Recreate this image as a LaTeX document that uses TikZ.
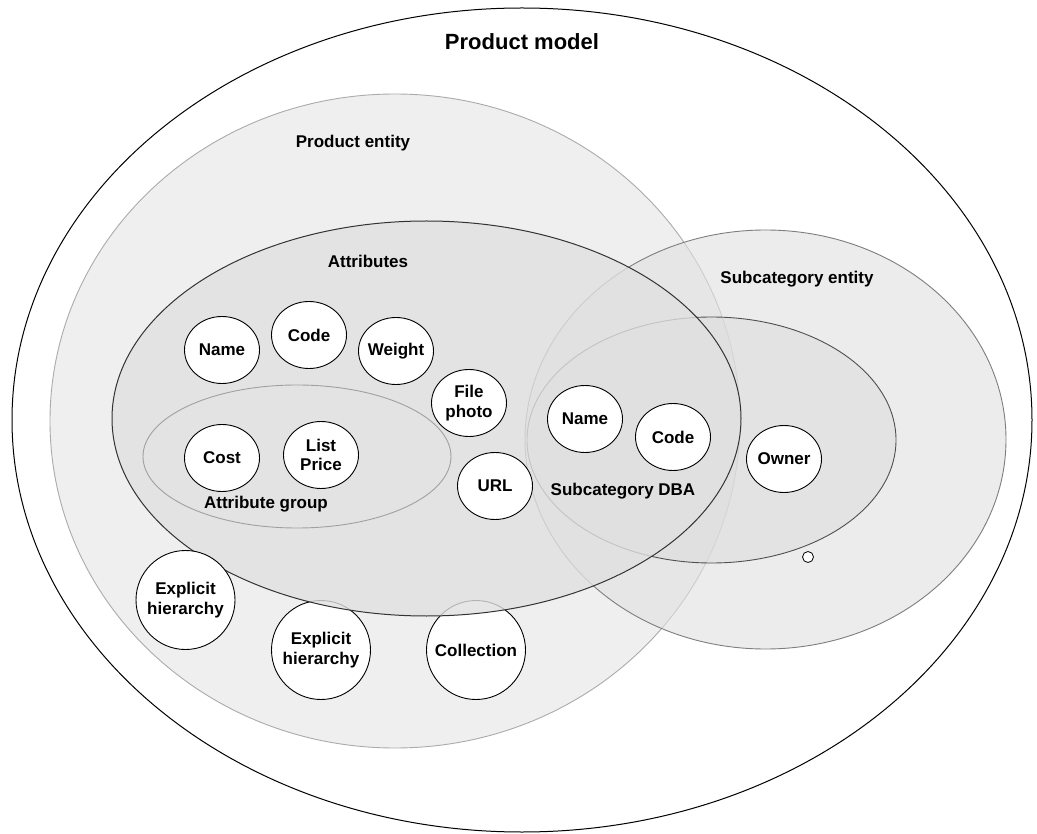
\documentclass[tikz,border=0pt]{standalone}
\usepackage{fontspec}
\setmainfont{Liberation Sans}
\usetikzlibrary{shapes.geometric}
\newcommand\lblfont{\bfseries\fontsize{17}{19.5}\selectfont}
\newcommand\titlefont{\bfseries\fontsize{22}{25}\selectfont}
\definecolor{pefill}{HTML}{EFEFEF}
\definecolor{pedraw}{HTML}{ABABAB}
\definecolor{scfill}{HTML}{E1E1E1}
\definecolor{scdraw}{HTML}{7E7E7E}
\definecolor{dbafill}{HTML}{DCDCDC}
\definecolor{dbadraw}{HTML}{505050}
\definecolor{atfill}{HTML}{E0E0E0}
\definecolor{atdraw}{HTML}{333333}
\definecolor{grpdraw}{HTML}{A0A0A0}
\begin{document}
\begin{tikzpicture}[x=1pt,y=-1pt,
  region/.style={ellipse, inner sep=0pt, outer sep=0pt},
  lbl/.style={font=\lblfont, inner sep=0pt, align=center},
  item/.style={ellipse, draw=black, line width=0.9pt, fill=white, inner sep=0pt,
    minimum width=75pt, minimum height=67pt,
    label={[lbl]center:#1}},
  bigitem/.style={item={#1}, minimum width=99pt, minimum height=99pt}
]
\useasboundingbox (0,0) rectangle (1037,834);
\fill[white] (0,0) rectangle (1037,834);

% containers
\node[region, draw=black, line width=1pt, fill=white,
  minimum width=1020pt, minimum height=824pt] (model) at (522,420) {};
\node[region, draw=pedraw, line width=0.9pt, fill=pefill,
  minimum width=690pt, minimum height=654pt] (pent) at (395,421) {};
\node[region, draw=scdraw, line width=0.9pt, fill=scfill, fill opacity=0.62,
  minimum width=481pt, minimum height=419pt] (sent) at (765.5,439.5) {};
\node[region, draw=dbadraw, line width=0.9pt, fill=dbafill, fill opacity=0.5,
  minimum width=369pt, minimum height=246pt] (dba) at (711.5,440) {};

% items partly behind the attributes ellipse
\node[bigitem={Collection}] (coll) at (476,650) {};
\node[bigitem={Explicit\\hierarchy}] (eh2) at (321,650) {};

\node[region, draw=atdraw, line width=1pt, fill=atfill, fill opacity=0.8,
  minimum width=629pt, minimum height=395pt] (attrs) at (426.5,418.5) {};
\node[region, draw=grpdraw, line width=0.9pt,
  minimum width=308pt, minimum height=143pt] (grp) at (297,456.5) {};

% items
\node[bigitem={Explicit\\hierarchy}] (eh1) at (185.5,600) {};
\node[item={Name}] (name) at (222,350) {};
\node[item={Code}] (code) at (309,335) {};
\node[item={Weight}] (weight) at (396,351) {};
\node[item={File\\photo}] (photo) at (469,403) {};
\node[item={Cost}] (cost) at (222,458) {};
\node[item={List\\Price}] (price) at (321,455) {};
\node[item={URL}] (url) at (495,486) {};
\node[item={Name}] (sname) at (585,419) {};
\node[item={Code}] (scode) at (673,437) {};
\node[item={Owner}] (owner) at (784,459) {};
\node[circle, draw=black, line width=0.8pt, fill=white, inner sep=0pt,
  minimum size=11pt] (dot) at (808,557) {};

% labels
\node[font=\titlefont, inner sep=0pt] (tmodel) at (522,42) {Product model};
\node[lbl] (tpent) at (353,143) {Product entity};
\node[lbl] (tattrs) at (368,261) {Attributes};
\node[lbl] (tsent) at (797,279) {Subcategory entity};
\node[lbl] (tgrp) at (266,504) {Attribute group};
\node[lbl] (tdba) at (623,491) {Subcategory DBA};
\end{tikzpicture}
\end{document}
